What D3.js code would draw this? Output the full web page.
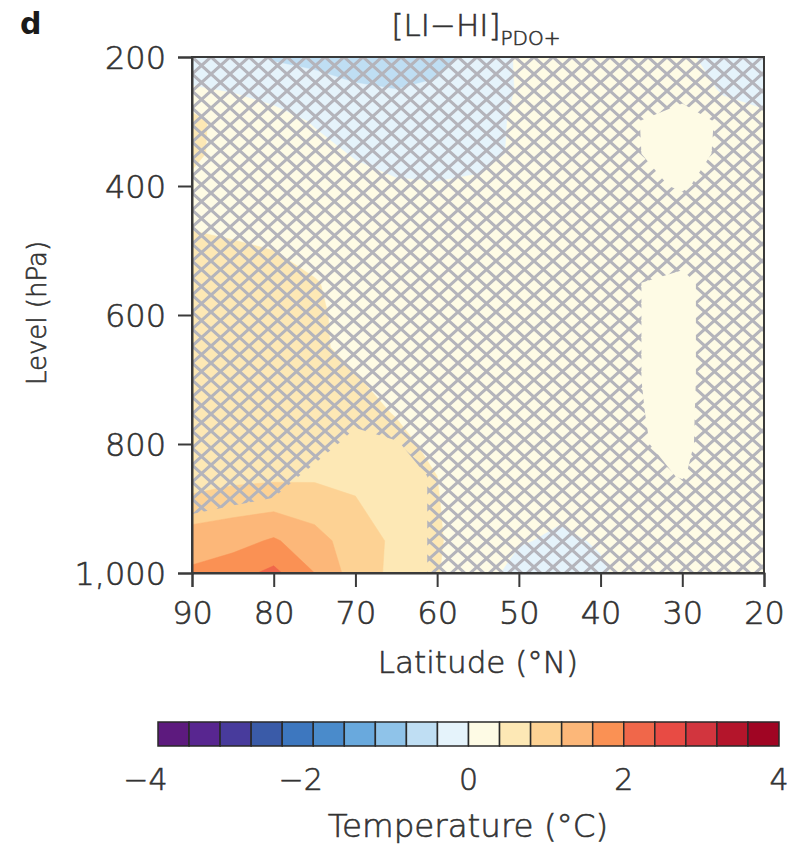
<!DOCTYPE html>
<html><head><meta charset="utf-8">
<script src="https://cdn.jsdelivr.net/npm/d3@7"></script>
<style>
body{margin:0;background:#fff}
svg{display:block}
text{font-family:"DejaVu Sans",sans-serif;fill:#333;font-weight:300;stroke:#333;stroke-width:0.6px}
</style>
</head><body>
<svg id="c" width="798" height="845"></svg>
<script>
// ---- data ----
const latitudes = [90,85,80,75,70,65,60,55,50,45,40,35,30,25,20];
const levels = [200,250,300,350,400,450,500,550,600,650,700,750,800,850,900,950,1000];
// temperature difference (°C), rows = levels (200 -> 1000), cols = latitudes (90 -> 20)
const temp200  = [-0.15,-0.25,-0.45,-0.5,-0.6,-0.6,-0.5,-0.3,0.05,0.05,0.1,0.1,0.05,-0.1,-0.2];
const temp250  = [0.02,-0.02,-0.1,-0.25,-0.35,-0.4,-0.35,-0.25,0.03,0.1,0.12,0.12,0.1,-0.02,-0.08];
const temp300  = [0.55,0.15,0.1,-0.02,-0.15,-0.25,-0.3,-0.2,0.08,0.1,0.15,0.15,0.15,0.08,0.05];
const temp350  = [0.5,0.2,0.12,0.08,-0.02,-0.12,-0.18,-0.1,0.05,0.12,0.15,0.2,0.2,0.12,0.1];
const temp400  = [0.3,0.2,0.15,0.12,0.08,0.04,0.03,0.06,0.1,0.15,0.15,0.2,0.2,0.15,0.12];
const temp450  = [0.35,0.3,0.25,0.2,0.15,0.12,0.1,0.1,0.12,0.15,0.15,0.2,0.2,0.15,0.12];
const temp500  = [0.48,0.45,0.4,0.3,0.2,0.15,0.12,0.12,0.12,0.15,0.15,0.2,0.2,0.15,0.12];
const temp550  = [0.55,0.6,0.55,0.42,0.28,0.18,0.14,0.12,0.12,0.15,0.15,0.2,0.2,0.15,0.12];
const temp600  = [0.6,0.7,0.7,0.45,0.3,0.18,0.14,0.12,0.12,0.15,0.15,0.2,0.2,0.15,0.12];
const temp650  = [0.55,0.62,0.6,0.45,0.32,0.2,0.15,0.12,0.12,0.15,0.15,0.2,0.2,0.15,0.12];
const temp700  = [0.5,0.55,0.55,0.5,0.42,0.28,0.18,0.12,0.12,0.15,0.15,0.2,0.2,0.15,0.12];
const temp750  = [0.5,0.55,0.58,0.58,0.5,0.38,0.25,0.15,0.12,0.12,0.15,0.2,0.2,0.15,0.12];
const temp800  = [0.5,0.55,0.6,0.62,0.6,0.48,0.32,0.18,0.12,0.1,0.12,0.18,0.18,0.15,0.12];
const temp850  = [0.62,0.68,0.72,0.74,0.72,0.55,0.4,0.2,0.1,0.08,0.1,0.15,0.18,0.15,0.12];
const temp900  = [0.95,1.1,1.15,1.05,0.85,0.6,0.42,0.2,0.06,0.04,0.06,0.12,0.15,0.15,0.12];
const temp950  = [1.45,1.45,1.65,1.35,1.0,0.72,0.44,0.18,0.02,-0.04,0.02,0.1,0.15,0.15,0.1];
const temp1000 = [1.65,1.85,2.1,1.6,1.0,0.7,0.42,0.12,-0.1,-0.12,-0.03,0.1,0.15,0.15,0.1];
const temperature = [temp200,temp250,temp300,temp350,temp400,temp450,temp500,temp550,temp600,
  temp650,temp700,temp750,temp800,temp850,temp900,temp950,temp1000];

// significance (1 = significant, unhatched), same grid
const sig200  = [0,0,0,0,0,0,0,0,0,0,0,0,0,0,0];
const sig250  = [0,0,0,0,0,0,0,0,0,0,0,0,0.1,0,0];
const sig300  = [0,0,0,0,0,0,0,0,0,0,0,0.52,1,0.35,0];
const sig350  = [0,0,0,0,0,0,0,0,0,0,0,0.5,1,0.3,0];
const sig400  = [0,0,0,0,0,0,0,0,0,0,0,0.3,0.6,0.1,0];
const sig450  = [0,0,0,0,0,0,0,0,0,0,0,0,0,0,0];
const sig500  = [0,0,0,0,0,0,0,0,0,0,0,0,0.1,0,0];
const sig550  = [0,0,0,0,0,0,0,0,0,0,0,0.5,0.75,0,0];
const sig600  = [0,0,0,0,0,0,0,0,0,0,0,0.5,0.75,0,0];
const sig650  = [0,0,0,0,0,0,0,0,0,0,0,0.5,0.75,0,0];
const sig700  = [0,0,0,0,0,0,0,0,0,0,0,0.5,0.75,0,0];
const sig750  = [0,0,0,0,0.2,0.1,0,0,0,0,0,0.48,0.72,0,0];
const sig800  = [0,0,0,0.1,0.8,0.55,0.1,0,0,0,0,0.45,0.7,0,0];
const sig850  = [0,0,0.1,0.75,1,1,0.34,0,0,0,0,0.25,0.55,0,0];
const sig900  = [0.4,0.55,0.7,1,1,1,0.34,0,0,0,0,0,0,0,0];
const sig950  = [1,1,1,1,1,1,0.34,0,0,0,0,0,0,0,0];
const sig1000 = [1,1,1,1,1,1,0.34,0,0,0,0,0,0,0,0];
const significance = [sig200,sig250,sig300,sig350,sig400,sig450,sig500,sig550,sig600,
  sig650,sig700,sig750,sig800,sig850,sig900,sig950,sig1000];

const binColors = ["#5d1a7e","#582690","#483b9c","#3a5ba8","#3d77bf","#4a8bcb","#69a9dd","#8fc3e9","#bfdef3","#e5f3fb",
  "#fefbe5","#fde8b5","#fdd294","#fcb779","#fa9154","#f0674a","#e84b44","#d2353e","#b4152b","#a00523"];
const colorBreaks = d3.range(21).map(i => Math.round((-4 + i*0.4)*10)/10);
const latTicks = [90,80,70,60,50,40,30,20];
const levelTicks = [200,400,600,800,1000];
const barTicks = [-4,-2,0,2,4];

// ---- layout ----
const svg = d3.select("#c");
const x = d3.scaleLinear().domain([90,20]).range([192,764]);
const y = d3.scaleLinear().domain([200,1000]).range([57,573]);
const nx = latitudes.length, ny = levels.length;
const gx = d3.scaleLinear().domain([0.5, nx-0.5]).range([latitudes[0], latitudes[nx-1]]);
const gy = d3.scaleLinear().domain([0.5, ny-0.5]).range([levels[0], levels[ny-1]]);
const path = d3.geoPath(d3.geoTransform({
  point(px, py){ this.stream.point(x(gx(px)), y(gy(py))); }
}));

const defs = svg.append("defs");
defs.append("clipPath").attr("id","plotclip").append("rect")
  .attr("x",x(90)).attr("y",y(200)).attr("width",x(20)-x(90)).attr("height",y(1000)-y(200));
const hw = 19, hh = 17;
const pat = defs.append("pattern").attr("id","hatch").attr("patternUnits","userSpaceOnUse")
  .attr("x",x(90)).attr("y",y(200)).attr("width",hw).attr("height",hh);
[-hh,0,hh].forEach(o=>{
  pat.append("line").attr("x1",0).attr("y1",o).attr("x2",hw).attr("y2",o+hh)
    .attr("stroke","#b4b4bb").attr("stroke-width",3.1);
  pat.append("line").attr("x1",0).attr("y1",o+hh).attr("x2",hw).attr("y2",o)
    .attr("stroke","#b4b4bb").attr("stroke-width",3.1);
});

const plot = svg.append("g").attr("clip-path","url(#plotclip)");
const color = d3.scaleThreshold().domain(colorBreaks.slice(1,-1)).range(binColors);
const flat = temperature.flat();
const bands = d3.contours().size([nx,ny]).smooth(true).thresholds(colorBreaks.slice(0,-1))(flat);
plot.selectAll("path.band").data(bands).join("path").attr("class","band")
  .attr("d", path).attr("fill", d => color(d.value + 0.2)).attr("stroke", d => color(d.value + 0.2)).attr("stroke-width",0.5);

const notSig = d3.contours().size([nx,ny]).smooth(true).thresholds([-0.5])(significance.flat().map(v => -v));
plot.selectAll("path.hatch").data(notSig).join("path").attr("class","hatch")
  .attr("d", path).attr("fill","url(#hatch)");

// frame
svg.append("rect").attr("x",x(90)).attr("y",y(200)).attr("width",x(20)-x(90)).attr("height",y(1000)-y(200))
  .attr("fill","none").attr("stroke","#3a3a3a").attr("stroke-width",2);

// axes
const xAxis = svg.append("g").attr("transform",`translate(0,${y(1000)})`)
  .call(d3.axisBottom(x).tickValues(latTicks).tickSize(14).tickPadding(10).tickFormat(d3.format("d")));
const yAxis = svg.append("g").attr("transform",`translate(${x(90)},0)`)
  .call(d3.axisLeft(y).tickValues(levelTicks).tickSize(14).tickPadding(12).tickFormat(d3.format(",")));
[xAxis,yAxis].forEach(a=>{
  a.select(".domain").attr("stroke","#3a3a3a").attr("stroke-width",2);
  a.selectAll(".tick line").attr("stroke","#3a3a3a").attr("stroke-width",2);
  a.selectAll(".tick text").attr("fill","#333").style("font-size","32px")
    .style("font-family","'DejaVu Sans',sans-serif").style("font-weight","300");
});
yAxis.selectAll(".tick text").attr("dy","0.36em");
xAxis.selectAll(".tick text").attr("dy","0.85em");

svg.append("text").attr("x",(x(90)+x(20))/2).attr("y",673).attr("text-anchor","middle")
  .style("font-size","31px").text("Latitude (°N)");
svg.append("text").attr("transform",`translate(46,${y(600)-2}) rotate(-90)`).attr("text-anchor","middle")
  .style("font-size","26px").text("Level (hPa)");

// title
const title = svg.append("text").attr("x",476).attr("y",36).attr("text-anchor","middle")
  .style("font-size","31px");
title.append("tspan").text("[LI\u2212HI]");
title.append("tspan").attr("dy",9).style("font-size","20px").text("PDO+");
svg.append("text").attr("x",20).attr("y",34).style("font-size","30px").style("font-weight","bold")
  .style("fill","#1a1a1a").style("stroke","none").text("d");

// colorbar
const cb = d3.scaleLinear().domain([-4,4]).range([158,779]);
const bar = svg.append("g");
bar.selectAll("rect").data(binColors).join("rect")
  .attr("x",(d,i)=>cb(colorBreaks[i])).attr("y",722)
  .attr("width",(d,i)=>cb(colorBreaks[i+1])-cb(colorBreaks[i])).attr("height",24)
  .attr("fill",d=>d).attr("stroke","#2a2a2a").attr("stroke-width",1.5);
barTicks.forEach(v=>{
  const label = v < 0 ? "\u2212" + Math.abs(v) : String(v);
  const t = svg.append("text").attr("y",790).style("font-size","30px").attr("text-anchor","middle").text(label);
  const w = t.node().getComputedTextLength();
  const tmp = svg.append("text").style("font-size","30px").text(String(Math.abs(v)));
  const dw = tmp.node().getComputedTextLength(); tmp.remove();
  t.attr("x", cb(v) - w/2 + dw/2);
});
svg.append("text").attr("x",468).attr("y",837).attr("text-anchor","middle")
  .style("font-size","32.5px").text("Temperature (°C)");
</script>
</body></html>
